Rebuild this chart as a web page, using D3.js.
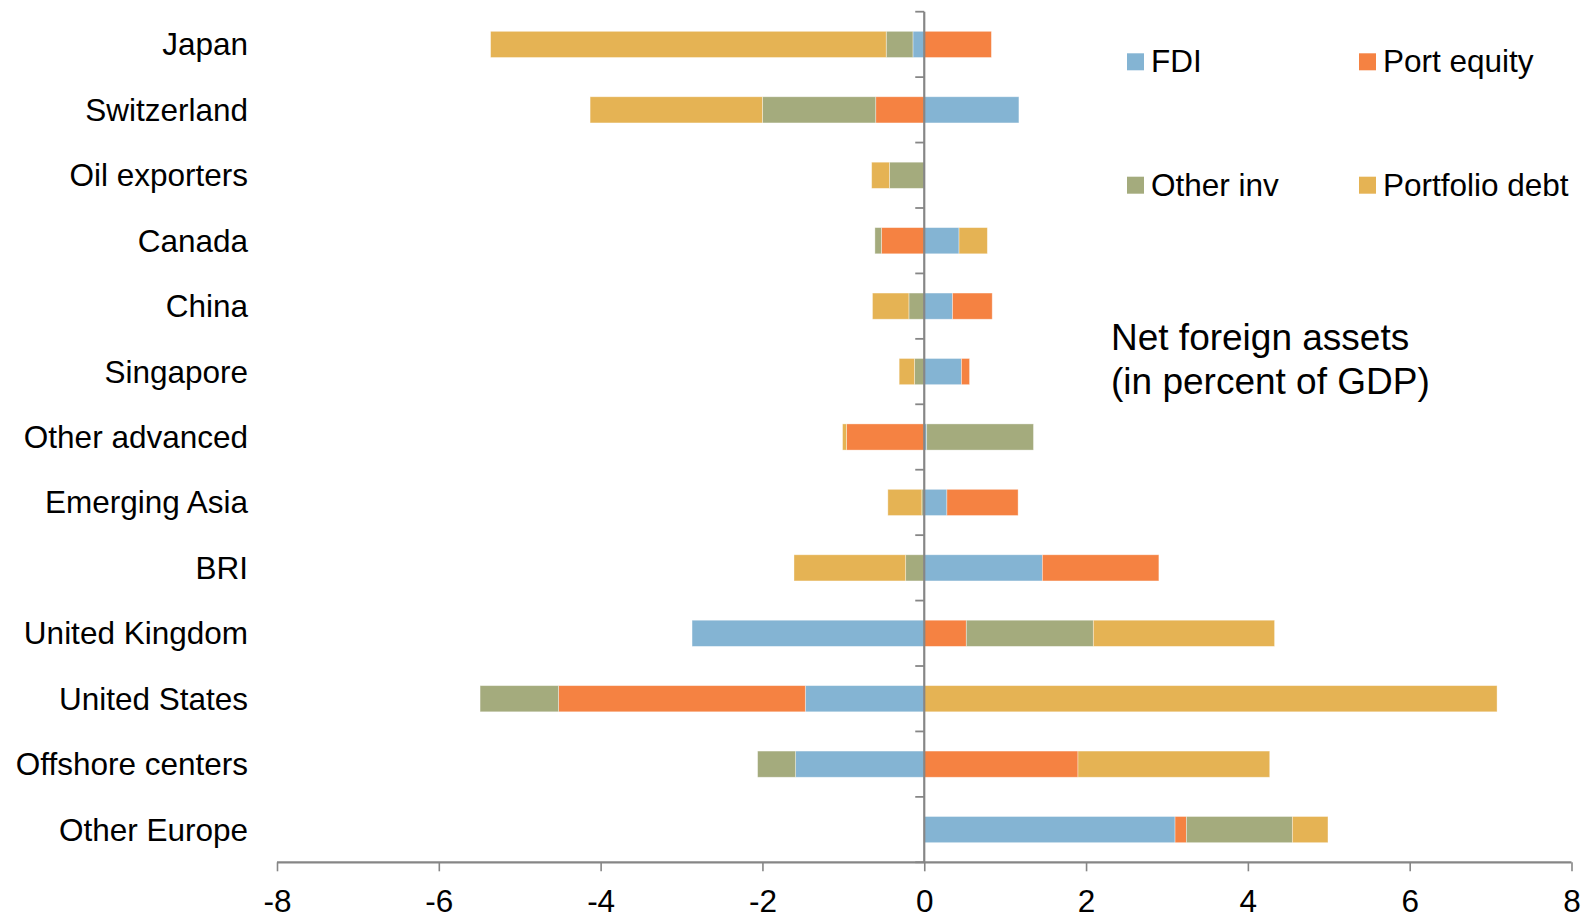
<!DOCTYPE html>
<html>
<head>
<meta charset="utf-8">
<script src="https://cdn.jsdelivr.net/npm/d3@7"></script>
<style>
  html, body { margin: 0; padding: 0; background: #ffffff; }
  svg { display: block; }
  text { font-family: "Liberation Sans", Arial, sans-serif; fill: #000; }
</style>
</head>
<body>
<svg id="chart" width="1589" height="915"></svg>
<script>
const categories = ["Japan", "Switzerland", "Oil exporters", "Canada", "China", "Singapore",
  "Other advanced", "Emerging Asia", "BRI", "United Kingdom", "United States",
  "Offshore centers", "Other Europe"];
const seriesNames = ["FDI", "Port equity", "Other inv", "Portfolio debt"];
const fdi         = [-0.14, 1.17, 0.00, 0.43, 0.35, 0.46, 0.03, 0.28, 1.46, -2.87, -1.47, -1.59, 3.10];
const portEquity  = [ 0.83, -0.60, 0.00, -0.53, 0.49, 0.10, -0.96, 0.88, 1.44, 0.52, -3.05, 1.90, 0.14];
const otherInv    = [-0.33, -1.40, -0.43, -0.08, -0.19, -0.12, 1.32, -0.03, -0.23, 1.57, -0.97, -0.47, 1.31];
const portDebt    = [-4.89, -2.13, -0.22, 0.35, -0.45, -0.19, -0.05, -0.42, -1.38, 2.24, 7.08, 2.37, 0.44];
const xTicks = [-8, -6, -4, -2, 0, 2, 4, 6, 8];
const xTickLabels = ["-8", "-6", "-4", "-2", "0", "2", "4", "6", "8"];
const colors = ["#84B4D3", "#F58242", "#A4AB7D", "#E5B354"];
const titleLines = ["Net foreign assets", "(in percent of GDP)"];

const seriesValues = [fdi, portEquity, otherInv, portDebt];
const rows = categories.map((c, i) => {
  const r = { category: c };
  seriesNames.forEach((s, k) => { r[s] = seriesValues[k][i]; });
  return r;
});

const svg = d3.select("#chart");
const x = d3.scaleLinear().domain([-8, 8]).range([277, 1571.5]);
const y = d3.scaleBand().domain(categories).range([11.7, 862.3]).paddingInner(0.6).paddingOuter(0.3);
const color = d3.scaleOrdinal().domain(seriesNames).range(colors);

const stack = d3.stack().keys(seriesNames).offset(d3.stackOffsetDiverging).order(d3.stackOrderNone);
const stacked = stack(rows);

// bars
svg.append("g").selectAll("g").data(stacked).join("g")
  .attr("fill", d => color(d.key))
  .selectAll("rect").data(d => d).join("rect")
  .attr("x", d => x(Math.min(d[0], d[1])))
  .attr("width", d => Math.abs(x(d[1]) - x(d[0])))
  .attr("y", d => y(d.data.category))
  .attr("height", y.bandwidth())
  .attr("stroke", "#ffffff").attr("stroke-opacity", 0.45).attr("stroke-width", 0.8);

const axisColor = "#868686";
// x axis
const xAxis = d3.axisBottom(x).tickValues(xTicks).tickSize(9).tickPadding(0)
  .tickFormat((d, i) => xTickLabels[i]);
const gx = svg.append("g").attr("transform", "translate(0,862.3)").call(xAxis);
gx.select(".domain").attr("stroke", axisColor).attr("stroke-width", 2.2).attr("d", `M${x(-8)},0H${x(8)}`);
gx.selectAll(".tick line").attr("stroke", axisColor).attr("stroke-width", 1.6);
gx.selectAll(".tick text").attr("font-size", 31.5).attr("y", 50).attr("dy", 0)
  .style("font-family", "'Liberation Sans', Arial, sans-serif").attr("fill", "#000");

// vertical axis at 0 with ticks at band boundaries
const step = y.step();
const r0 = y.range()[0];
const boundaries = d3.range(categories.length + 1).map(i => r0 + i * step);
svg.append("line").attr("x1", x(0)).attr("x2", x(0))
  .attr("y1", r0).attr("y2", y.range()[1])
  .attr("stroke", axisColor).attr("stroke-width", 2.2);
svg.append("g").selectAll("line").data(boundaries).join("line")
  .attr("x1", x(0) - 9).attr("x2", x(0))
  .attr("y1", d => d).attr("y2", d => d)
  .attr("stroke", axisColor).attr("stroke-width", 1.8);

// category labels
svg.append("g").selectAll("text").data(categories).join("text")
  .attr("x", 248)
  .attr("y", d => y(d) + y.bandwidth() / 2)
  .attr("dy", "0.35em")
  .attr("text-anchor", "end")
  .attr("font-size", 31.5)
  .text(d => d);

// legend
const legendPos = [[1127, 53.3], [1359, 53.3], [1127, 176.7], [1359, 176.7]];
const lg = svg.append("g").selectAll("g").data(seriesNames).join("g")
  .attr("transform", (d, i) => `translate(${legendPos[i][0]},${legendPos[i][1]})`);
lg.append("rect").attr("width", 17).attr("height", 17).attr("fill", d => color(d));
lg.append("text").attr("x", 24).attr("y", 18.8).attr("font-size", 31.5).text(d => d);

// title text
svg.append("g").selectAll("text").data(titleLines).join("text")
  .attr("x", 1111).attr("y", (d, i) => 350 + i * 43.5)
  .attr("font-size", 37).text(d => d);
</script>
</body>
</html>
